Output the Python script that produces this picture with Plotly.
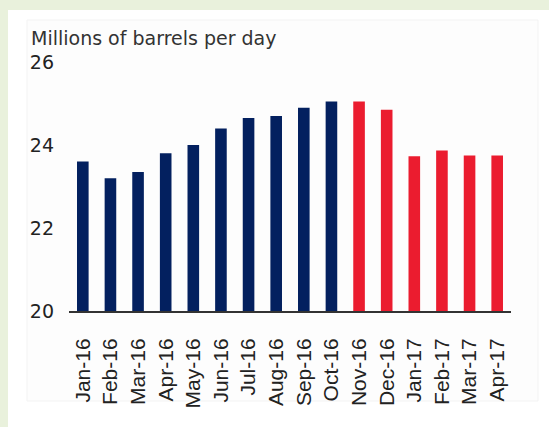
import plotly.graph_objects as go

months = ["Jan-16", "Feb-16", "Mar-16", "Apr-16", "May-16", "Jun-16", "Jul-16", "Aug-16",
          "Sep-16", "Oct-16", "Nov-16", "Dec-16", "Jan-17", "Feb-17", "Mar-17", "Apr-17"]
production = [23.6, 23.2, 23.35, 23.8, 24.0, 24.4, 24.65, 24.7,
              24.9, 25.05, 25.05, 24.85, 23.73, 23.87, 23.75, 23.75]
n_actual = 10
y_ticks = [20, 22, 24, 26]

NAVY = "#03205f"
RED = "#eb1c2f"
colors = [NAVY if i < n_actual else RED for i in range(len(months))]

W, H = 549, 427
L, R, T, B = 69, 38, 62, 116
PW, PH = W - L - R, H - T - B


def px_x(x):
    return (x - L) / PW


def px_y(y):
    return (H - B - y) / PH


fig = go.Figure(go.Bar(x=months, y=production, marker=dict(color=colors, line=dict(width=0))))

shapes = [
    dict(type="rect", xref="paper", yref="paper", layer="below",
         x0=px_x(0), x1=px_x(W), y0=px_y(0), y1=px_y(10),
         fillcolor="#e9f1dc", line=dict(width=0)),
    dict(type="rect", xref="paper", yref="paper", layer="below",
         x0=px_x(0), x1=px_x(8), y0=px_y(0), y1=px_y(H),
         fillcolor="#e9f1dc", line=dict(width=0)),
    dict(type="rect", xref="paper", yref="paper", layer="below",
         x0=px_x(27), x1=px_x(538), y0=px_y(20), y1=px_y(401),
         fillcolor="#fdfdfd", line=dict(width=1, color="#f3f3f3")),
]

fig.update_layout(
    width=W, height=H,
    margin=dict(l=L, r=R, t=T, b=B, pad=0),
    paper_bgcolor="white", plot_bgcolor="rgba(0,0,0,0)",
    bargap=0.58, showlegend=False,
    shapes=shapes,
    annotations=[dict(text="Millions of barrels per day", xref="paper", yref="paper",
                      x=px_x(29), y=px_y(38), xanchor="left", yanchor="middle",
                      showarrow=False, font=dict(family="DejaVu Sans", size=19, color="#333333"))],
)
fig.update_xaxes(showline=True, linecolor="#333333", linewidth=2, ticks="",
                 tickangle=-90, tickfont=dict(family="Liberation Sans", size=21, color="#222222"),
                 ticklabelstandoff=17, showgrid=False)
fig.update_yaxes(range=[20, 26], tickvals=y_ticks, showgrid=False, zeroline=False, showline=False,
                 ticks="", tickfont=dict(family="DejaVu Sans", size=19, color="#222222"),
                 ticklabelstandoff=14)

fig.write_html("out.html")
